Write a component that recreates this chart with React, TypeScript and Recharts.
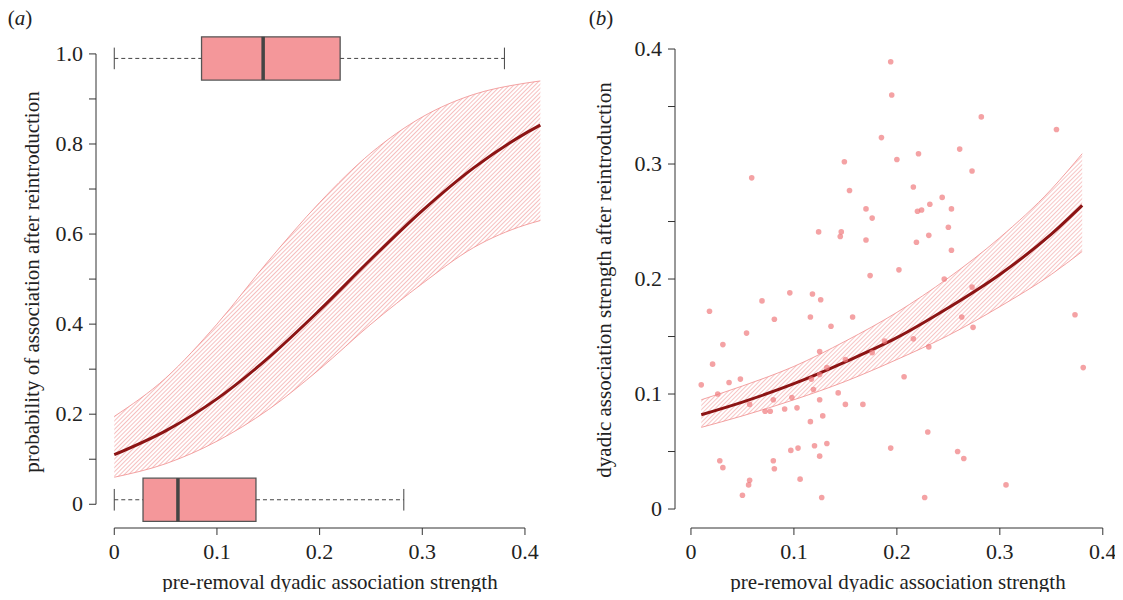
import React from "react";
import {
  Area,
  ComposedChart,
  Line,
  ReferenceArea,
  ReferenceLine,
  Scatter,
  XAxis,
  YAxis,
} from "recharts";

// panel (a): fitted probability with confidence band
const strengthA = [0, 0.05, 0.1, 0.15, 0.2, 0.25, 0.3, 0.35, 0.4, 0.415];
const probMean = [0.11, 0.163, 0.234, 0.325, 0.431, 0.544, 0.652, 0.747, 0.823, 0.842];
const probUpper = [0.195, 0.28, 0.4, 0.54, 0.67, 0.78, 0.86, 0.91, 0.935, 0.94];
const probLower = [0.06, 0.09, 0.14, 0.21, 0.3, 0.4, 0.49, 0.57, 0.62, 0.63];

// boxplots: [whiskerLow, q1, median, q3, whiskerHigh, yPosition]
const boxTop = [0, 0.085, 0.145, 0.22, 0.38, 0.99];
const boxBottom = [0, 0.028, 0.062, 0.138, 0.282, 0.01];

// panel (b): fitted association strength
const strengthB = [0.01, 0.05, 0.1, 0.15, 0.2, 0.25, 0.3, 0.35, 0.38];
const assocMean = [0.082, 0.093, 0.109, 0.128, 0.149, 0.175, 0.204, 0.239, 0.264];
const assocUpper = [0.095, 0.107, 0.124, 0.146, 0.171, 0.201, 0.236, 0.278, 0.309];
const assocLower = [0.071, 0.081, 0.095, 0.111, 0.13, 0.151, 0.176, 0.204, 0.224];

const pointsX = [
  0.194, 0.195, 0.185, 0.149, 0.2, 0.059, 0.154, 0.17, 0.176, 0.124, 0.146, 0.145, 0.17, 0.174,
  0.202, 0.096, 0.118, 0.126, 0.069, 0.018, 0.081, 0.116, 0.157, 0.136, 0.054, 0.031, 0.021,
  0.125, 0.176, 0.188, 0.01, 0.037, 0.048, 0.026, 0.117, 0.125, 0.132, 0.15, 0.119, 0.08, 0.098,
  0.057, 0.143, 0.125, 0.072, 0.077, 0.091, 0.103, 0.15, 0.167, 0.128, 0.116, 0.12, 0.132, 0.097,
  0.104, 0.194, 0.028, 0.031, 0.08, 0.081, 0.125, 0.106, 0.057, 0.056, 0.05, 0.127, 0.236, 0.282,
  0.355, 0.261, 0.221, 0.273, 0.216, 0.244, 0.232, 0.22, 0.224, 0.253, 0.25, 0.231, 0.219, 0.253,
  0.246, 0.273, 0.373, 0.263, 0.274, 0.216, 0.231, 0.381, 0.207, 0.23, 0.259, 0.265, 0.306, 0.227,
];
const pointsY = [
  0.389, 0.36, 0.323, 0.302, 0.304, 0.288, 0.277, 0.261, 0.253, 0.241, 0.241, 0.237, 0.234, 0.203,
  0.208, 0.188, 0.187, 0.182, 0.181, 0.172, 0.165, 0.167, 0.167, 0.159, 0.153, 0.143, 0.126,
  0.137, 0.136, 0.146, 0.108, 0.11, 0.113, 0.1, 0.113, 0.117, 0.123, 0.13, 0.104, 0.095, 0.097,
  0.091, 0.101, 0.095, 0.085, 0.085, 0.087, 0.088, 0.091, 0.091, 0.081, 0.076, 0.055, 0.057, 0.051,
  0.053, 0.053, 0.042, 0.036, 0.042, 0.035, 0.046, 0.026, 0.025, 0.021, 0.012, 0.01, 0.407, 0.341,
  0.33, 0.313, 0.309, 0.294, 0.28, 0.271, 0.265, 0.259, 0.26, 0.261, 0.245, 0.238, 0.232, 0.225,
  0.2, 0.193, 0.169, 0.167, 0.158, 0.148, 0.141, 0.123, 0.115, 0.067, 0.05, 0.044, 0.021, 0.01,
];

const ticksA = [0, 0.1, 0.2, 0.3, 0.4];
const probTicks = [0, 0.1, 0.2, 0.3, 0.4, 0.5, 0.6, 0.7, 0.8, 0.9, 1.0];
const ticksB = [0, 0.1, 0.2, 0.3, 0.4];
const assocTicks = [0, 0.05, 0.1, 0.15, 0.2, 0.25, 0.3, 0.35, 0.4];

const dataA = strengthA.map((x, i) => ({ x, mean: probMean[i], band: [probLower[i], probUpper[i]] }));
const dataB = strengthB.map((x, i) => ({ x, mean: assocMean[i], band: [assocLower[i], assocUpper[i]] }));
const scatterB = pointsX.map((x, i) => ({ x, y: pointsY[i] }));

const font = "Liberation Serif, Times New Roman, Times, DejaVu Serif, serif";
const axisColor = "#333";
const lineColor = "#8c1414";
const bandColor = "#f08c8c";

const fmtX = (v: number) => (v === 0 ? "0" : v.toFixed(1));
const fmtEven = (step: number) => (v: number) => {
  const k = Math.round(v / step);
  if (k % 2 !== 0) return "";
  return v === 0 ? "0" : v.toFixed(1);
};

const xTick = (p: any) => (
  <text x={p.x} y={p.y + 22} textAnchor="middle" fontSize={22} fontFamily={font} fill="#222">
    {fmtX(p.payload.value)}
  </text>
);
const yTick = (step: number) => (p: any) => (
  <text x={p.x - 4} y={p.y + 7} textAnchor="end" fontSize={22} fontFamily={font} fill="#222">
    {fmtEven(step)(p.payload.value)}
  </text>
);

const axisProps = {
  axisLine: false,
  tickSize: 7,
  tickLine: { stroke: axisColor },
  allowDataOverflow: true,
} as any;

function Hatch({ id }: { id: string }) {
  return (
    <defs>
      <pattern id={id} width="3" height="3" patternUnits="userSpaceOnUse" patternTransform="rotate(45)">
        <rect width="3" height="3" fill="#fff" />
        <line x1="0" y1="0" x2="0" y2="3" stroke={bandColor} strokeWidth="1.1" />
      </pattern>
    </defs>
  );
}

function boxMarks(b: number[], key: string) {
  const [lo, q1, med, q3, hi, y] = b;
  const h = 0.048;
  const dash = { stroke: "#444", strokeDasharray: "4 3", strokeWidth: 1 };
  return [
    <ReferenceLine key={key + "w1"} segment={[{ x: lo, y }, { x: q1, y }]} {...dash} ifOverflow="visible" />,
    <ReferenceLine key={key + "w2"} segment={[{ x: q3, y }, { x: hi, y }]} {...dash} ifOverflow="visible" />,
    <ReferenceLine key={key + "c1"} segment={[{ x: lo, y: y - h / 2 }, { x: lo, y: y + h / 2 }]} stroke="#444" ifOverflow="visible" />,
    <ReferenceLine key={key + "c2"} segment={[{ x: hi, y: y - h / 2 }, { x: hi, y: y + h / 2 }]} stroke="#444" ifOverflow="visible" />,
    <ReferenceArea key={key + "b"} x1={q1} x2={q3} y1={y - h} y2={y + h} fill="#f4979a" fillOpacity={1} stroke="#555" strokeWidth={1.3} ifOverflow="visible" />,
    <ReferenceLine key={key + "m"} segment={[{ x: med, y: y - h }, { x: med, y: y + h }]} stroke="#444" strokeWidth={3.5} ifOverflow="visible" />,
  ];
}

const label = (text: React.ReactNode, left: number, top: number, rotate = false): React.ReactNode => (
  <div
    style={{
      position: "absolute",
      left,
      top,
      fontFamily: font,
      fontSize: 21,
      color: "#222",
      whiteSpace: "nowrap",
      transform: rotate ? "translate(-50%, -50%) rotate(-90deg)" : "translate(-50%, -50%)",
    }}
  >
    {text}
  </div>
);

export default function App() {
  return (
    <div style={{ position: "relative", width: 1123, height: 600, margin: -8, background: "#fff", fontFamily: font }}>
      <div style={{ position: "absolute", left: 0, top: 0 }}>
        <ComposedChart width={560} height={600} data={dataA} margin={{ top: 35, right: 18, bottom: 32, left: 26 }}>
          <Hatch id="hatchA" />
          <XAxis type="number" dataKey="x" domain={[-0.0178, 0.4166]} ticks={ticksA} tick={xTick} height={40} {...axisProps} />
          <YAxis type="number" domain={[-0.0527, 1.042]} ticks={probTicks} tick={yTick(0.1)} width={70} {...axisProps} />
          <ReferenceLine segment={[{ x: -0.0178, y: 0 }, { x: -0.0178, y: 1 }]} stroke={axisColor} ifOverflow="visible" />
          <ReferenceLine segment={[{ x: 0, y: -0.0527 }, { x: 0.4, y: -0.0527 }]} stroke={axisColor} ifOverflow="visible" />
          <Area dataKey="band" type="monotone" fill="url(#hatchA)" fillOpacity={1} stroke={bandColor} strokeWidth={0.8} isAnimationActive={false} />
          <Line dataKey="mean" type="monotone" stroke={lineColor} strokeWidth={3} dot={false} isAnimationActive={false} />
          {boxMarks(boxTop, "top")}
          {boxMarks(boxBottom, "bot")}
        </ComposedChart>
      </div>
      <div style={{ position: "absolute", left: 580, top: 0 }}>
        <ComposedChart width={543} height={600} margin={{ top: 45, right: 13, bottom: 32, left: 25 }}>
          <Hatch id="hatchB" />
          <XAxis type="number" dataKey="x" domain={[-0.0155, 0.407]} ticks={ticksB} tick={xTick} height={40} {...axisProps} />
          <YAxis type="number" domain={[-0.0165, 0.4035]} ticks={assocTicks} tick={yTick(0.05)} width={70} {...axisProps} />
          <ReferenceLine segment={[{ x: -0.0155, y: 0 }, { x: -0.0155, y: 0.4 }]} stroke={axisColor} ifOverflow="visible" />
          <ReferenceLine segment={[{ x: 0, y: -0.0165 }, { x: 0.4, y: -0.0165 }]} stroke={axisColor} ifOverflow="visible" />
          <Scatter data={scatterB} dataKey="y" isAnimationActive={false}
            shape={(p: any) => <circle cx={p.cx} cy={p.cy} r={2.8} fill="#f07a7e" fillOpacity={0.7} />} />
          <Area data={dataB} dataKey="band" type="monotone" fill="url(#hatchB)" fillOpacity={0.9} stroke={bandColor} strokeWidth={0.8} isAnimationActive={false} />
          <Line data={dataB} dataKey="mean" type="monotone" stroke={lineColor} strokeWidth={3} dot={false} isAnimationActive={false} />
        </ComposedChart>
      </div>
      {label(<>(<i>a</i>)</>, 20, 18)}
      {label(<>(<i>b</i>)</>, 601, 18)}
      {label("probability of association after reintroduction", 32, 282, true)}
      {label("dyadic association strength after reintroduction", 604, 280, true)}
      {label("pre-removal dyadic association strength", 330, 582)}
      {label("pre-removal dyadic association strength", 898, 582)}
    </div>
  );
}
